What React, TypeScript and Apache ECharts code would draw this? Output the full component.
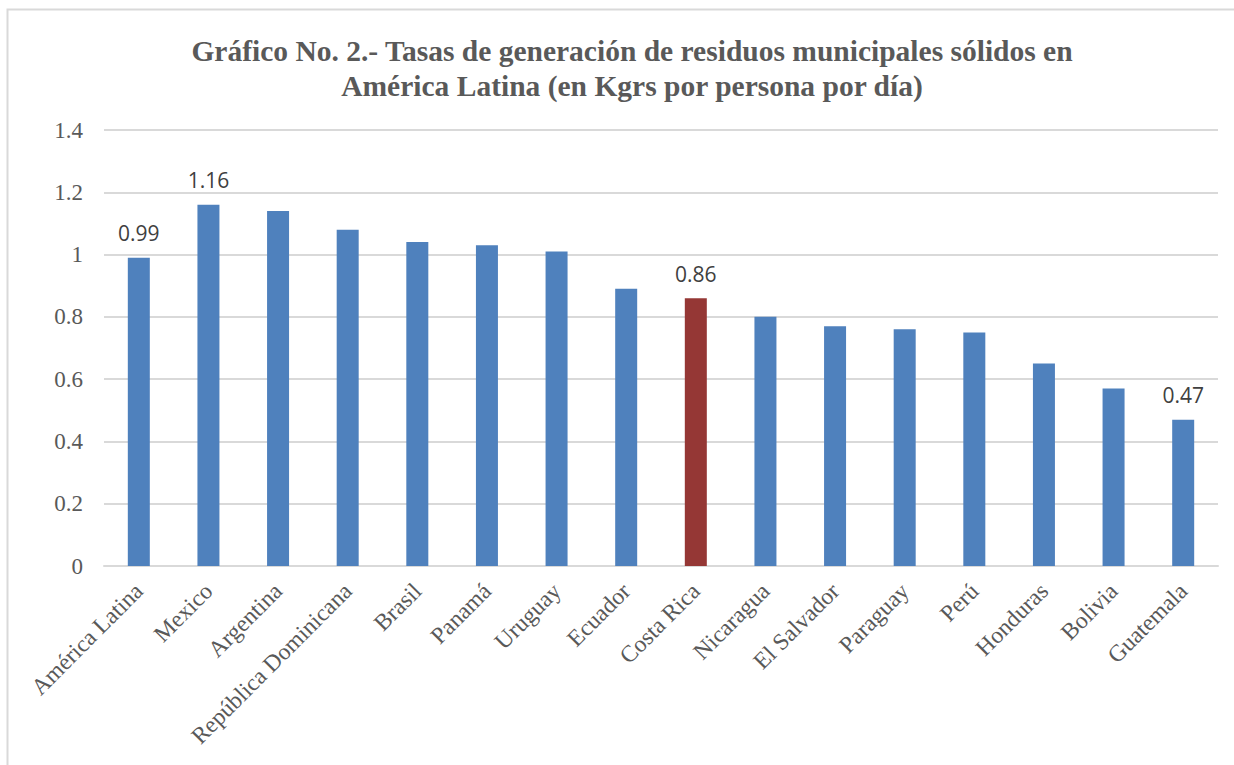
import React, { useEffect, useRef } from "react";
import * as echarts from "echarts";

const categories = [
  "América Latina", "Mexico", "Argentina", "República Dominicana", "Brasil", "Panamá",
  "Uruguay", "Ecuador", "Costa Rica", "Nicaragua", "El Salvador", "Paraguay", "Perú",
  "Honduras", "Bolivia", "Guatemala",
];
const values = [0.99, 1.16, 1.14, 1.08, 1.04, 1.03, 1.01, 0.89, 0.86, 0.8, 0.77, 0.76, 0.75, 0.65, 0.57, 0.47];
const labeledCategories = ["América Latina", "Mexico", "Costa Rica", "Guatemala"];
const highlightCategory = "Costa Rica";
const yTicks = { min: 0, max: 1.4, interval: 0.2 };
const titleLines = [
  "Gráfico No. 2.- Tasas de generación de residuos municipales sólidos en",
  "América Latina (en Kgrs por persona por día)",
];

export default function App() {
  const ref = useRef<HTMLDivElement>(null);
  useEffect(() => {
    if (!ref.current) return;
    const chart = echarts.init(ref.current, null, { renderer: "svg" });
    const serif = "'Liberation Serif', 'Times New Roman', serif";
    chart.setOption({
      animation: false,
      backgroundColor: "#ffffff",
      title: {
        text: titleLines.join("\n"),
        left: 627,
        top: 28,
        textAlign: "center",
        textStyle: {
          fontFamily: serif,
          fontWeight: "bold",
          fontSize: 29.5,
          lineHeight: 35,
          color: "#595959",
        },
      },
      graphic: [
        {
          type: "rect",
          shape: { x: 7.5, y: 9.5, width: 1400, height: 900 },
          style: { fill: "none", stroke: "#D9D9D9", lineWidth: 2 },
          silent: true,
        },
      ],
      grid: { left: 104, right: 16, top: 130, bottom: 199 },
      xAxis: {
        type: "category",
        data: categories,
        axisLine: { lineStyle: { color: "#D9D9D9", width: 2 } },
        axisTick: { show: false },
        axisLabel: {
          rotate: 45,
          interval: 0,
          fontFamily: serif,
          fontSize: 23.5,
          color: "#595959",
          margin: 21,
        },
      },
      yAxis: {
        type: "value",
        min: yTicks.min,
        max: yTicks.max,
        interval: yTicks.interval,
        axisLine: { show: false },
        axisTick: { show: false },
        splitLine: { lineStyle: { color: "#D9D9D9", width: 2 } },
        axisLabel: {
          fontFamily: serif,
          fontSize: 23,
          color: "#595959",
          margin: 21,
          formatter: (v: number) => String(Math.round(v * 10) / 10),
        },
      },
      series: [
        {
          type: "bar",
          barWidth: 22,
          data: values.map((v, i) => ({
            value: v,
            itemStyle: {
              color: categories[i] === highlightCategory ? "#953735" : "#4F81BD",
            },
            label: { show: labeledCategories.includes(categories[i]) },
          })),
          label: {
            position: "top",
            distance: 14,
            fontFamily: "'Open Sans', 'Liberation Sans', sans-serif",
            fontSize: 21,
            color: "#404040",
            formatter: (p: any) => String(p.value),
          },
        },
      ],
    });
    return () => chart.dispose();
  }, []);
  return (
    <div
      ref={ref}
      style={{ position: "fixed", left: 0, top: 0, width: 1234, height: 765 }}
    />
  );
}
